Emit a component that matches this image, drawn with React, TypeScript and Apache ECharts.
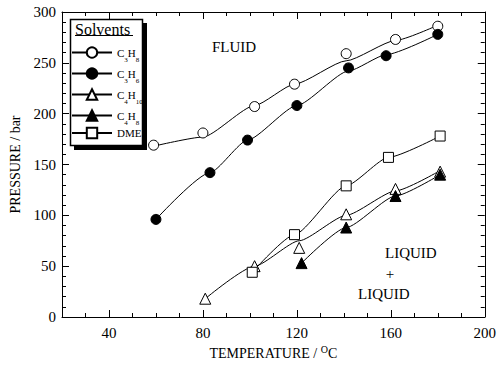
import React, { useEffect, useRef } from "react";
import * as echarts from "echarts";

const FONT = "Liberation Serif, 'Times New Roman', serif";

// Temperatures (°C) and pressures (bar) of measured points
const c3h8T = [59, 80, 102, 119, 141, 162, 180];
const c3h8P = [169, 181, 207, 229, 259, 273, 286];
const c3h8Fit = [168, 177, 208, 229, 252, 272, 287];

const c3h6T = [60, 83, 99, 120, 142, 158, 180];
const c3h6P = [96, 142, 174, 208, 245, 257, 278];
const c3h6Fit = [96, 142, 174, 208, 242, 258, 278];

const c4h10T = [81, 102, 121, 141, 162, 181];
const c4h10P = [18, 50, 68, 101, 126, 143];
const c4h10Fit = [18, 50, 75, 100, 124, 144];

const c4h8T = [122, 141, 162, 181];
const c4h8P = [53, 88, 119, 140];
const c4h8Fit = [53, 88, 119, 140];

const dmeT = [101, 119, 141, 159, 181];
const dmeP = [44, 81, 129, 157, 178];
const dmeFit = [44, 81, 129, 157, 178];

const xMajorTicks = [40, 80, 120, 160, 200];

const solventNames = ["C3H8", "C3H6", "C4H10", "C4H8", "DME"];
const solventLabels: Record<string, string> = {
  C3H8: "C{s|3}H{s|8}",
  C3H6: "C{s|3}H{s|6}",
  C4H10: "C{s|4}H{s|10}",
  C4H8: "C{s|4}H{s|8}",
  DME: "DME",
};

const zip = (a: number[], b: number[]) => a.map((v, i) => [v, b[i]]);

const solvents = [
  { name: "C3H8", T: c3h8T, P: c3h8P, fit: c3h8Fit, symbol: "circle", fill: "#fff", size: 10 },
  { name: "C3H6", T: c3h6T, P: c3h6P, fit: c3h6Fit, symbol: "circle", fill: "#000", size: 10 },
  { name: "C4H10", T: c4h10T, P: c4h10P, fit: c4h10Fit, symbol: "triangle", fill: "#fff", size: 11 },
  { name: "C4H8", T: c4h8T, P: c4h8P, fit: c4h8Fit, symbol: "triangle", fill: "#000", size: 11 },
  { name: "DME", T: dmeT, P: dmeP, fit: dmeFit, symbol: "rect", fill: "#fff", size: 10 },
];

function buildOption(): echarts.EChartsOption {
  const series: any[] = [];
  solvents.forEach((s) => {
    series.push({
      type: "line",
      name: s.name,
      data: zip(s.T, s.fit),
      smooth: 0.2,
      smoothMonotone: "x",
      showSymbol: false,
      symbol: s.symbol,
      symbolSize: s.size,
      itemStyle: { color: s.fill, borderColor: "#000", borderWidth: 1 },
      lineStyle: { color: "#000", width: 1 },
      z: 2,
      silent: true,
    });
  });
  solvents.forEach((s) => {
    series.push({
      type: "scatter",
      name: s.name + "_pts",
      data: zip(s.T, s.P),
      symbol: s.symbol,
      symbolSize: s.size,
      itemStyle: { color: s.fill, borderColor: "#000", borderWidth: 1, opacity: 1 },
      z: 3,
      silent: true,
    });
  });

  const axisLine = { show: true, lineStyle: { color: "#000", width: 1 } };
  const grid = { left: 62, top: 12, width: 427, height: 306 };

  return {
    animation: false,
    backgroundColor: "#fff",
    grid,
    xAxis: [
      {
        type: "value",
        position: "bottom",
        min: 20,
        max: 200,
        interval: 10,
        axisLine,
        axisTick: { show: true, inside: true, length: 4, lineStyle: { color: "#000" } },
        axisLabel: { show: false },
        splitLine: { show: false },
        name: "TEMPERATURE / {sup|O}C",
        nameLocation: "middle",
        nameGap: 27,
        nameTextStyle: {
          fontFamily: FONT,
          fontSize: 14,
          color: "#000",
          rich: { sup: { fontFamily: FONT, fontSize: 10, padding: [0, 0, 8, 0] } },
        },
      },
      {
        type: "value",
        position: "bottom",
        min: 20,
        max: 200,
        axisLine: { show: false },
        axisTick: { show: true, inside: true, length: 7, customValues: xMajorTicks, lineStyle: { color: "#000" } },
        axisLabel: {
          show: true,
          customValues: xMajorTicks,
          fontFamily: FONT,
          fontSize: 15,
          color: "#000",
          margin: 8,
        },
        splitLine: { show: false },
      },
      {
        type: "value",
        position: "top",
        min: 20,
        max: 200,
        interval: 10,
        axisLine,
        axisTick: { show: true, inside: true, length: 4, lineStyle: { color: "#000" } },
        axisLabel: { show: false },
        splitLine: { show: false },
      },
      {
        type: "value",
        position: "top",
        min: 20,
        max: 200,
        axisLine: { show: false },
        axisTick: { show: true, inside: true, length: 7, customValues: xMajorTicks, lineStyle: { color: "#000" } },
        axisLabel: { show: false },
        splitLine: { show: false },
      },
    ],
    yAxis: [
      {
        type: "value",
        position: "left",
        min: 0,
        max: 300,
        interval: 50,
        axisLine,
        axisTick: { show: true, inside: true, length: 7, lineStyle: { color: "#000" } },
        minorTick: { show: true, splitNumber: 5, length: 4, lineStyle: { color: "#000" } },
        axisLabel: { fontFamily: FONT, fontSize: 15, color: "#000", margin: 6 },
        splitLine: { show: false },
        name: "PRESSURE / bar",
        nameLocation: "middle",
        nameGap: 38,
        nameTextStyle: { fontFamily: FONT, fontSize: 14, color: "#000" },
      },
      {
        type: "value",
        position: "right",
        min: 0,
        max: 300,
        interval: 50,
        axisLine,
        axisTick: { show: true, inside: true, length: 7, lineStyle: { color: "#000" } },
        minorTick: { show: true, splitNumber: 5, length: 4, lineStyle: { color: "#000" } },
        axisLabel: { show: false },
        splitLine: { show: false },
      },
    ],
    legend: {
      data: solventNames,
      orient: "vertical",
      left: 71,
      top: 42,
      padding: 0,
      itemWidth: 40,
      itemHeight: 13,
      itemGap: 0,
      selectedMode: false,
      z: 6,
      formatter: (name: string) => solventLabels[name] || name,
      textStyle: {
        fontFamily: FONT,
        fontSize: 11,
        color: "#000",
        lineHeight: 14,
        rich: { s: { fontFamily: FONT, fontSize: 7, lineHeight: 7, padding: [14, 0, 0, 0] } },
      },
    },
    graphic: [
      { type: "rect", z: 4, shape: { x: 74, y: 23, width: 73, height: 127 }, style: { fill: "#000" } },
      { type: "rect", z: 5, shape: { x: 70.5, y: 19.5, width: 72, height: 126 }, style: { fill: "#fff", stroke: "#000", lineWidth: 1.5 } },
      {
        type: "text",
        z: 7,
        x: 75,
        y: 29,
        style: { text: "Solvents", font: `16px ${FONT}`, fill: "#000", verticalAlign: "middle" },
      },
      { type: "line", z: 7, shape: { x1: 75, y1: 35.5, x2: 133, y2: 35.5 }, style: { stroke: "#000", lineWidth: 1 } },
      {
        type: "text",
        x: 212,
        y: 47,
        style: { text: "FLUID", font: `15px ${FONT}`, fill: "#000", verticalAlign: "middle" },
      },
      {
        type: "text",
        x: 385,
        y: 253,
        style: { text: "LIQUID", font: `15px ${FONT}`, fill: "#000", verticalAlign: "middle" },
      },
      {
        type: "text",
        x: 390,
        y: 274,
        style: { text: "+", font: `15px ${FONT}`, fill: "#000", verticalAlign: "middle", align: "center" },
      },
      {
        type: "text",
        x: 358,
        y: 294,
        style: { text: "LIQUID", font: `15px ${FONT}`, fill: "#000", verticalAlign: "middle" },
      },
    ],
    series,
  } as any;
}

export default function App() {
  const ref = useRef<HTMLDivElement>(null);
  useEffect(() => {
    if (!ref.current) return;
    const chart = echarts.init(ref.current, null, { renderer: "svg" });
    chart.setOption(buildOption());
    return () => chart.dispose();
  }, []);
  return (
    <div
      ref={ref}
      style={{ position: "absolute", left: 0, top: 0, width: 499, height: 365, background: "#fff" }}
    />
  );
}
